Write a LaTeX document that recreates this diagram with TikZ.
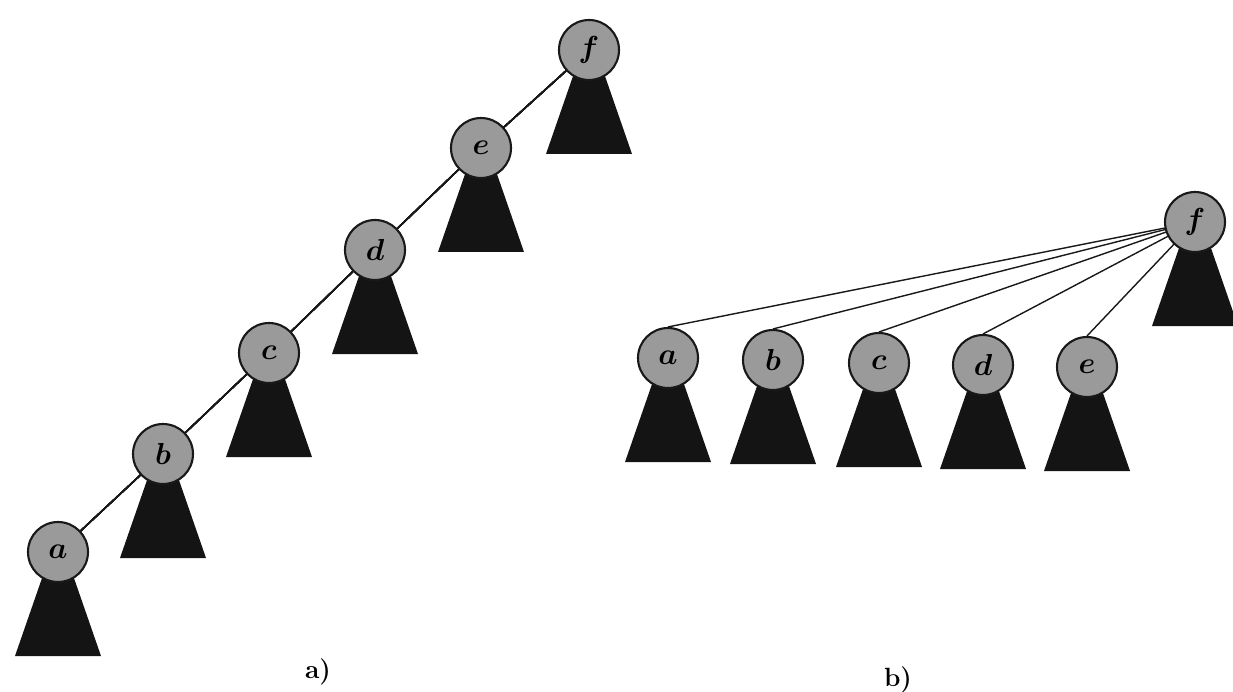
\documentclass[tikz,border=0pt]{standalone}
\usepackage{tikz}
\usetikzlibrary{backgrounds, calc}
\definecolor{knotgray}{HTML}{9A9A9A}
\definecolor{treeblack}{HTML}{141414}
\newcommand{\subtree}[1]{\fill[tree] ($(#1)+(0,-20)$) -- ++(-43,124) -- ++(86,0) -- cycle;}

\begin{document}
\begin{tikzpicture}[
  x=0.02cm, y=-0.02cm,
  knot/.style={circle, draw=black!90, line width=1.2pt, fill=knotgray, minimum size=1.2cm, inner sep=0pt, font=\fontsize{18}{21}\selectfont\boldmath},
  tree/.style={fill=treeblack},
  edge/.style={line width=0.8pt, black!90},
  tag/.style={font=\fontsize{15}{18}\selectfont\bfseries}
]
\useasboundingbox (0,0) rectangle (1233,692);

% a) degenerate chain
\node[knot] (lf) at (589,50)  {$f$};
\node[knot] (le) at (481,148) {$e$};
\node[knot] (ld) at (375,250) {$d$};
\node[knot] (lc) at (269,353) {$c$};
\node[knot] (lb) at (163,454) {$b$};
\node[knot] (la) at (58,552)  {$a$};

% b) flattened
\node[knot] (rf) at (1195,222) {$f$};
\node[knot] (ra) at (668,358)  {$a$};
\node[knot] (rb) at (773,360)  {$b$};
\node[knot] (rc) at (879,363)  {$c$};
\node[knot] (rd) at (983,365)  {$d$};
\node[knot] (re) at (1087,367) {$e$};

\begin{pgfonlayer}{background}
  \foreach \n in {la,lb,lc,ld,le,lf,ra,rb,rc,rd,re,rf}
    \subtree{\n}
  \draw[edge] (la) -- (lb) -- (lc) -- (ld) -- (le) -- (lf);
  \foreach \n in {ra,rb,rc,rd,re}
    \draw[edge] (rf.center) -- (\n.north);
\end{pgfonlayer}

\node[tag] (capa) at (318,672) {a)};
\node[tag] (capb) at (898,680) {b)};
\end{tikzpicture}
\end{document}
